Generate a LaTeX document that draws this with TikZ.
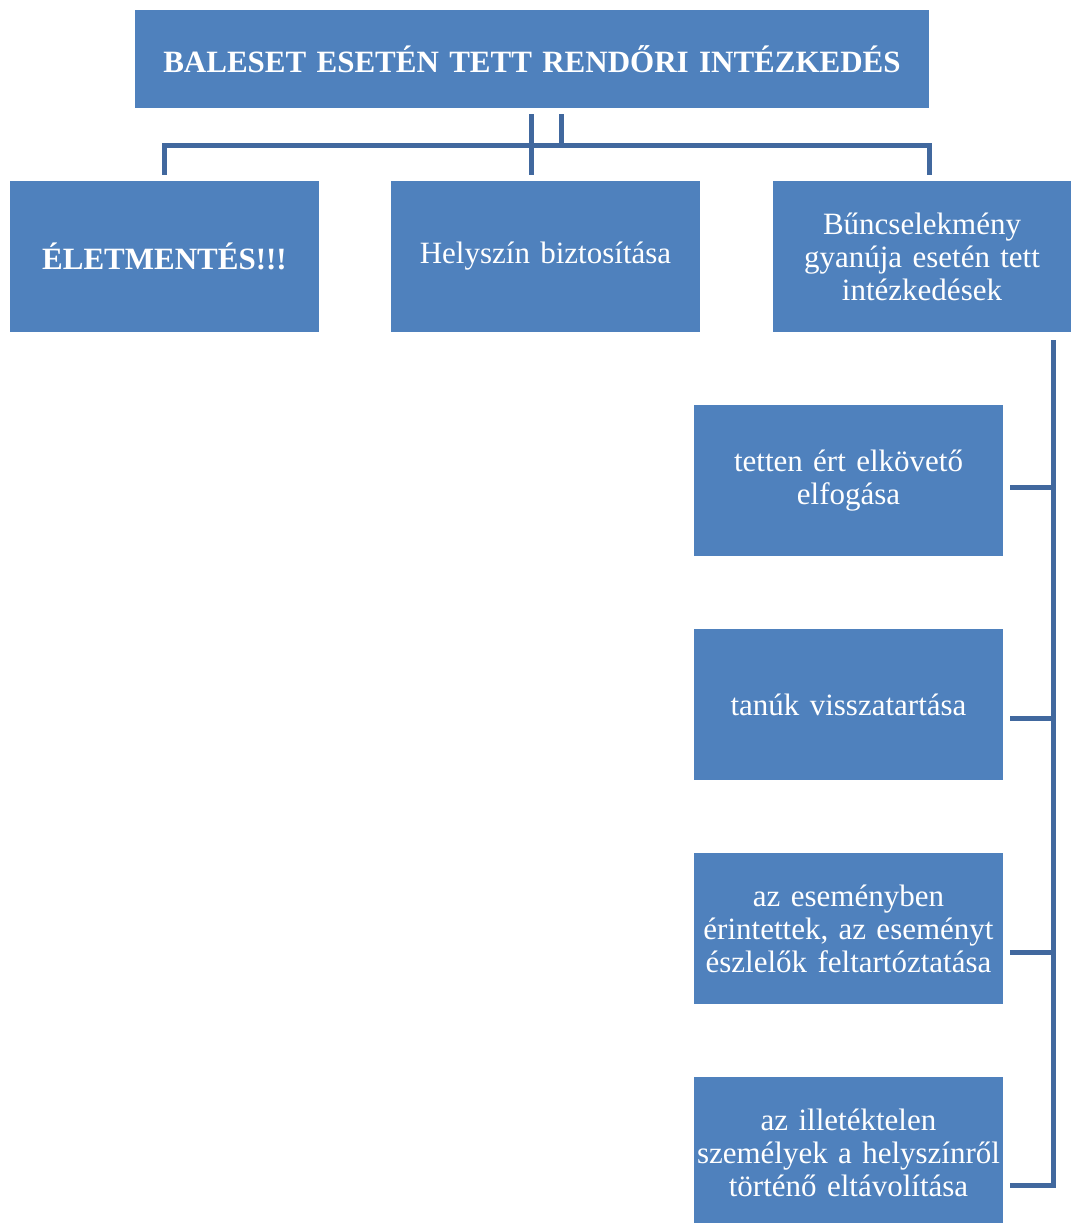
\documentclass[tikz,border=0pt]{standalone}
\usepackage{fontspec}
\setmainfont{Liberation Serif}
\definecolor{boxblue}{HTML}{4F81BD}
\definecolor{lineblue}{HTML}{41689E}
\tikzset{
  box/.style={fill=boxblue, text=white, align=center, inner xsep=0pt, inner ysep=2pt,
    minimum width=309pt, minimum height=151pt, text width=309pt,
    font=\fontsize{31}{33}\selectfont},
  conn/.style={draw=lineblue, line width=5pt}
}
\begin{document}
\begin{tikzpicture}[x=1pt, y=-1pt]
  \useasboundingbox (0,0) rectangle (1071,1223);
  % top level
  \node[box, minimum width=794pt, minimum height=98pt, text width=794pt,
    font=\fontsize{31}{33}\selectfont\bfseries] (top) at (532,59)
    {BALESET ESETÉN TETT RENDŐRI INTÉZKEDÉS};
  % second row
  \node[box, font=\fontsize{31}{33}\selectfont\bfseries] (life) at (164.5,256.5) {ÉLETMENTÉS!!!};
  \node[box] (scene) at (545.5,256.5) {Helyszín biztosítása};
  \node[box, minimum width=298pt, text width=298pt] (crime) at (922,256.5)
    {Bűncselekmény\\ gyanúja esetén tett\\ intézkedések};
  % right column
  \node[box] (arrest) at (848.5,480.5) {tetten ért elkövető\\ elfogása};
  \node[box] (witness) at (848.5,704.5) {tanúk visszatartása};
  \node[box] (detain) at (848.5,928.5)
    {az eseményben\\ érintettek, az eseményt\\ észlelők feltartóztatása};
  \node[box] (remove) at (848.5,1152.5)
    {az illetéktelen\\ személyek a helyszínről\\ történő eltávolítása};

  % junctions
  \coordinate (ja) at (531,114);
  \coordinate (jb) at (561,114);
  \coordinate (jm) at (531,145);
  \coordinate (jn) at (561,145);
  \coordinate (jl) at (164,145);
  \coordinate (jr) at (929,145);
  \coordinate (ra) at (1053,340);
  \coordinate (r1) at (1053,487);
  \coordinate (r2) at (1053,718);
  \coordinate (r3) at (1053,952);
  \coordinate (r4) at (1053,1185);

  \begin{scope}[conn]
    \draw (ja) -- ([yshift=6pt]scene.north -| ja);
    \draw (jb) -- (jn);
    \draw ([yshift=6pt]life.north -| jl) -- (jl) -- (jr)
      -- ([yshift=6pt]crime.north -| jr);
    \draw (ra) -- (r4) -- ([xshift=7pt]remove.east |- r4);
    \draw (r1) -- ([xshift=7pt]arrest.east |- r1);
    \draw (r2) -- ([xshift=7pt]witness.east |- r2);
    \draw (r3) -- ([xshift=7pt]detain.east |- r3);
  \end{scope}
\end{tikzpicture}
\end{document}
